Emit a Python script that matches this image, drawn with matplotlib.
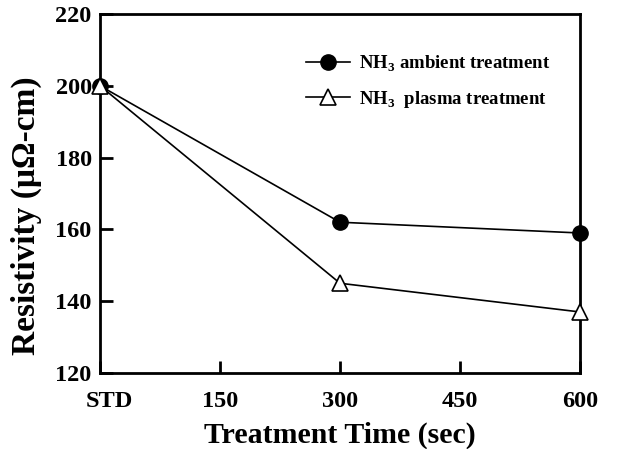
import matplotlib
matplotlib.use("Agg")
import matplotlib.pyplot as plt
import matplotlib.transforms as mtransforms

plt.rcParams['font.family'] = ['Liberation Serif', 'DejaVu Serif']
plt.rcParams['font.weight'] = 'bold'
plt.rcParams['mathtext.fontset'] = 'custom'
plt.rcParams['mathtext.rm'] = 'Liberation Serif:bold'
plt.rcParams['mathtext.bf'] = 'Liberation Serif:bold'

time_sec = [0, 300, 600]
ambient = [200, 162, 159]
plasma = [200, 145, 137]
x_ticks = [0, 150, 300, 450, 600]
x_ticklabels = ['STD', '150', '300', '450', '600']
y_ticks = [120, 140, 160, 180, 200, 220]

fig = plt.figure(figsize=(6.2, 4.49), dpi=100)
ax = fig.add_axes([100/620, 1-373/449, 480/620, 359/449])

ax.plot(time_sec, ambient, color='black', lw=1.2, marker='o', ms=11,
        mfc='black', mec='black', label=r'NH$_{3}$ ambient treatment', clip_on=False, zorder=3)
ax.plot(time_sec, plasma, color='black', lw=1.2, marker='^', ms=12,
        mfc='white', mec='black', mew=1.2, label=r'NH$_{3}$  plasma treatment', clip_on=False, zorder=4)

ax.set_xlim(0, 600)
ax.set_ylim(120, 220)
ax.set_xticks(x_ticks)
ax.set_xticklabels(x_ticklabels)
ax.set_yticks(y_ticks)
for s in ax.spines.values():
    s.set_linewidth(2)
ax.tick_params(direction='in', length=9, width=2, labelsize=17.5)
ax.tick_params(axis='y', pad=6)
ax.tick_params(axis='x', pad=13)
for lbl in ax.get_xticklabels() + ax.get_yticklabels():
    lbl.set_fontweight('bold')

# nudge the "STD" label slightly right of its tick
std_lbl = ax.get_xticklabels()[0]
std_lbl.set_transform(std_lbl.get_transform() +
                      mtransforms.ScaledTranslation(7/72, 0, fig.dpi_scale_trans))

ax.set_xlabel('Treatment Time (sec)', fontsize=21.5, fontweight='bold', labelpad=7)
ax.set_ylabel('Resistivity (\u03bc\u03a9-cm)', fontsize=24, fontweight='bold')
ax.yaxis.set_label_coords(-0.12, 0.437)

leg = ax.legend(loc='upper left', bbox_to_anchor=(0.395, 0.937), frameon=False,
                handlelength=2.3, labelspacing=0.8, handletextpad=0.5,
                prop={'weight': 'bold', 'size': 13.5})

fig.savefig('out.png', dpi=100)
